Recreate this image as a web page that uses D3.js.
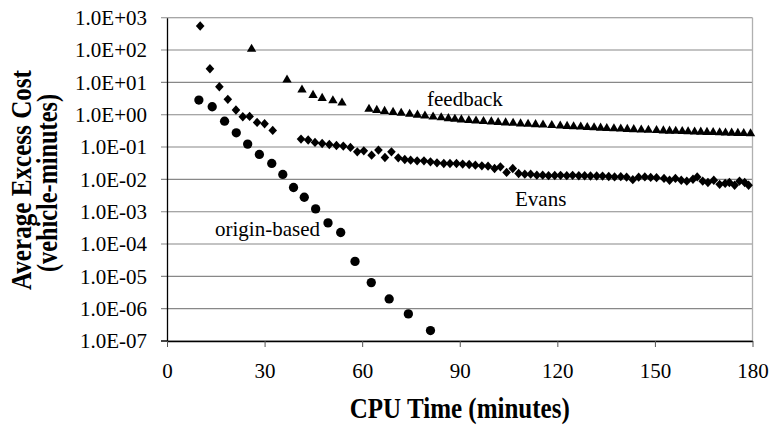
<!DOCTYPE html>
<html>
<head>
<meta charset="utf-8">
<script src="https://cdn.jsdelivr.net/npm/d3@7"></script>
<style>
  html, body { margin: 0; padding: 0; background: #fff; }
  svg { display: block; }
  text { font-family: "Liberation Serif", "Times New Roman", serif; fill: #000; }
</style>
</head>
<body>
<svg id="chart" width="770" height="428"></svg>
<script>
// ---------------- data ----------------
const xTicks = [0, 30, 60, 90, 120, 150, 180];
const yTicks = [1e3, 1e2, 1e1, 1e0, 1e-1, 1e-2, 1e-3, 1e-4, 1e-5, 1e-6, 1e-7];
const yTickLabels = ["1.0E+03", "1.0E+02", "1.0E+01", "1.0E+00", "1.0E-01", "1.0E-02",
                     "1.0E-03", "1.0E-04", "1.0E-05", "1.0E-06", "1.0E-07"];

const originTime = [9.8, 13.9, 17.7, 21.3, 24.8, 28.4, 32.2, 35.6, 38.9, 42.2, 45.7, 49.5, 53.4, 57.8, 62.8, 68.3, 74.2, 81.0];
const originCost = [2.83, 1.76, 0.63, 0.275, 0.123, 0.059, 0.031, 0.0142, 0.0056, 0.0028, 0.00122, 4.5e-4, 2.27e-4, 2.9e-5, 6.4e-6, 2.0e-6, 6.9e-7, 2.1e-7];

const evansTime = [10.2, 13.2, 16.1, 18.7, 21.2, 23.3, 25.4, 27.7, 30.0, 32.5, 41.2, 43.4, 45.5, 47.7, 49.9, 52.1,
  54.2, 56.4, 58.5, 60.5, 62.9, 65.0, 67.0, 69.0, 71.1, 73.1,
  74.9, 76.9, 79.0, 81.0, 83.0, 85.1, 87.0, 89.0, 90.9, 92.9,
  94.8, 96.8, 98.7, 100.7, 102.5, 104.4, 106.3, 108.1, 110.0, 111.8,
  113.7, 115.5, 117.3, 119.2, 121.0, 122.9, 124.7, 126.6, 128.4, 130.2,
  132.1, 133.9, 135.8, 137.6, 139.5, 141.3, 143.2, 145.0, 146.9, 148.7,
  150.5, 152.8, 154.5, 156.3, 158.1, 159.8, 161.7, 163.0, 164.7, 166.3,
  168.1, 169.9, 171.6, 172.9, 174.5, 176.0, 177.6, 178.8];
const evansCost = [553, 26.4, 7.3, 2.98, 1.39, 0.86, 0.885, 0.578, 0.523, 0.327, 0.176, 0.164, 0.139, 0.129, 0.120, 0.112,
  0.1067, 0.0972, 0.0710, 0.0762, 0.0561, 0.0802, 0.0476, 0.0710, 0.0463, 0.0413,
  0.0393, 0.0374, 0.0374, 0.0348, 0.0324, 0.0310, 0.0310, 0.0310, 0.0296, 0.0289,
  0.0275, 0.0262, 0.0256, 0.0217, 0.0244, 0.0164, 0.0217, 0.0152, 0.0145, 0.0145,
  0.0135, 0.0135, 0.0130, 0.0132, 0.0133, 0.0130, 0.0133, 0.0129, 0.0129, 0.0127,
  0.0127, 0.0126, 0.0123, 0.0119, 0.0121, 0.0117, 0.0098, 0.0117, 0.0119, 0.0115,
  0.0113, 0.0107, 0.0094, 0.0107, 0.0094, 0.0088, 0.0101, 0.0119, 0.0088, 0.0080,
  0.0094, 0.0070, 0.0075, 0.0080, 0.0066, 0.0088, 0.0080, 0.0066];

const feedbackTime = [26.0, 36.9, 41.5, 44.9, 47.7, 51.0, 53.8,
  62.1, 64.5, 66.9, 69.5, 72.0, 74.6, 77.0, 79.3, 81.8, 84.3,
  86.5, 88.5, 90.5, 92.8, 95.0, 97.3, 99.7, 101.8, 104.1, 106.4,
  108.7, 111.0, 113.3, 115.6, 118.3, 120.9, 123.0, 125.0, 127.2, 129.2,
  131.3, 133.3, 135.2, 137.4, 139.5, 141.5, 143.5, 145.8, 148.0, 150.5,
  152.6, 154.5, 156.4, 158.4, 160.2, 162.2, 164.1, 166.0, 167.9, 169.9,
  171.7, 173.6, 175.5, 177.3, 179.4];
const feedbackCost = [113, 12.6, 6.2, 4.25, 3.43, 2.89, 2.45,
  1.57, 1.46, 1.36, 1.26, 1.19, 1.10, 1.04, 0.97, 0.91, 0.86,
  0.81, 0.77, 0.74, 0.71, 0.685, 0.66, 0.64, 0.615, 0.595, 0.58,
  0.557, 0.542, 0.526, 0.512, 0.493, 0.48, 0.467, 0.453, 0.444, 0.431,
  0.422, 0.41, 0.402, 0.393, 0.385, 0.377, 0.369, 0.361, 0.353, 0.346,
  0.338, 0.333, 0.329, 0.322, 0.318, 0.313, 0.308, 0.304, 0.30, 0.296,
  0.291, 0.287, 0.283, 0.279, 0.275];

const seriesNames = ["origin-based", "Evans", "feedback"];
const xTitle = "CPU Time (minutes)";
const yTitleLines = ["Average Excess Cost", "(vehicle-minutes)"];

// ---------------- layout ----------------
(function draw() {
  const svg = d3.select("#chart");
  const pL = 167, pR = 752.5, pT = 17.7, pB = 341;

  const x = d3.scaleLinear().domain([0, 180]).range([pL, pR]);
  const y = d3.scaleLog().domain([1e-7, 1e3]).range([pB, pT]);

  svg.append("rect").attr("width", 770).attr("height", 428).attr("fill", "#fff");

  // gridlines (extend left as tick marks)
  svg.append("g").selectAll("line").data(yTicks).join("line")
    .attr("x1", pL - 6).attr("x2", pR)
    .attr("y1", d => y(d)).attr("y2", d => y(d))
    .attr("stroke", "#888").attr("stroke-width", 1.1);

  // right border
  svg.append("line").attr("x1", pR).attr("x2", pR).attr("y1", pT).attr("y2", pB)
    .attr("stroke", "#b0b0b0").attr("stroke-width", 1.3);

  // y axis
  const yAxis = d3.axisLeft(y).tickValues(yTicks).tickSize(0).tickPadding(20)
    .tickFormat((d, i) => yTickLabels[i]);
  const gy = svg.append("g").attr("transform", `translate(${pL},0)`).call(yAxis);
  gy.select(".domain").attr("stroke", "#000").attr("stroke-width", 1.3);
  gy.selectAll("text").attr("font-size", 21).attr("dy", "0.33em")
    .style("font-family", '"Liberation Serif", serif').attr("fill", "#000");

  // x axis
  const xAxis = d3.axisBottom(x).tickValues(xTicks).tickSize(6).tickPadding(16).tickSizeOuter(0);
  const gx = svg.append("g").attr("transform", `translate(0,${pB})`).call(xAxis);
  gx.select(".domain").attr("stroke", "#000").attr("stroke-width", 1.3);
  gx.selectAll(".tick line").attr("stroke", "#555");
  gx.selectAll("text").attr("font-size", 21)
    .style("font-family", '"Liberation Serif", serif').attr("fill", "#000");
  svg.append("line").attr("x1", pL - 6).attr("x2", pL).attr("y1", pB).attr("y2", pB)
    .attr("stroke", "#000").attr("stroke-width", 1.3);

  // markers
  const circleSym = d3.symbol().type(d3.symbolCircle).size(68)();
  const triSym = d3.symbol().type(d3.symbolTriangle).size(38)();
  const diamondPath = "M0,-4.7L4.3,0L0,4.7L-4.3,0Z";

  const originData = originTime.map((t, i) => ({ t, v: originCost[i] }));
  const evansData = evansTime.map((t, i) => ({ t, v: evansCost[i] }));
  const feedbackData = feedbackTime.map((t, i) => ({ t, v: feedbackCost[i] }));

  svg.append("g").selectAll("path").data(originData).join("path")
    .attr("d", circleSym).attr("fill", "#000")
    .attr("transform", d => `translate(${x(d.t)},${y(d.v)})`);
  svg.append("g").selectAll("path").data(evansData).join("path")
    .attr("d", diamondPath).attr("fill", "#000")
    .attr("transform", d => `translate(${x(d.t)},${y(d.v)})`);
  svg.append("g").selectAll("path").data(feedbackData).join("path")
    .attr("d", triSym).attr("fill", "#000")
    .attr("transform", d => `translate(${x(d.t)},${y(d.v) + 0.8})`);

  // series annotations
  const ann = [
    { text: seriesNames[0], px: 215, py: 236 },
    { text: seriesNames[1], px: 515, py: 206 },
    { text: seriesNames[2], px: 427, py: 106 }
  ];
  svg.append("g").selectAll("text").data(ann).join("text")
    .attr("x", d => d.px).attr("y", d => d.py)
    .attr("font-size", 21).text(d => d.text);

  // axis titles (reference glyphs are tall relative to their length)
  svg.append("text").attr("x", (pL + pR) / 2).attr("y", 418)
    .attr("text-anchor", "middle").attr("font-size", 30).attr("font-weight", "bold")
    .attr("textLength", 220).attr("lengthAdjust", "spacingAndGlyphs")
    .text(xTitle);

  const yc = 180;
  svg.append("text").attr("transform", `translate(31,${yc}) rotate(-90)`)
    .attr("text-anchor", "middle").attr("font-size", 30).attr("font-weight", "bold")
    .attr("textLength", 220).attr("lengthAdjust", "spacingAndGlyphs")
    .text(yTitleLines[0]);
  svg.append("text").attr("transform", `translate(57,${yc + 3}) rotate(-90)`)
    .attr("text-anchor", "middle").attr("font-size", 30).attr("font-weight", "bold")
    .attr("textLength", 178).attr("lengthAdjust", "spacingAndGlyphs")
    .text(yTitleLines[1]);
})();
</script>
</body>
</html>
